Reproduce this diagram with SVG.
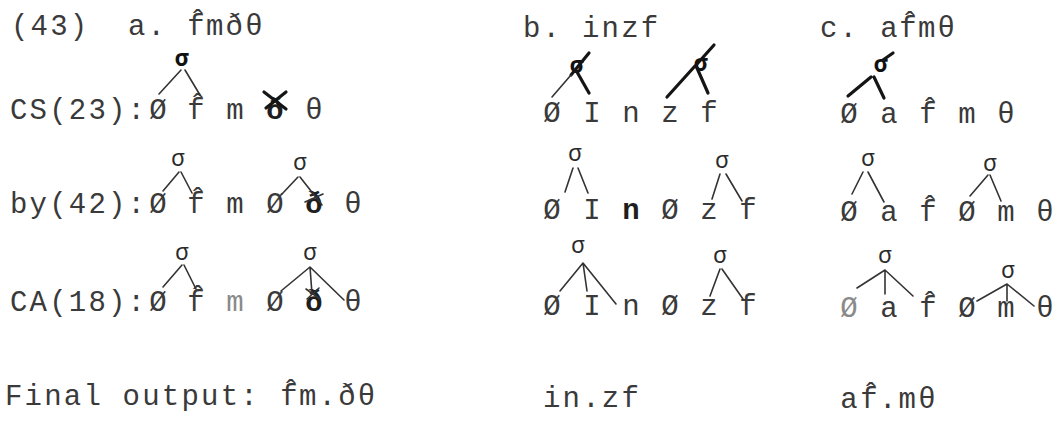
<svg xmlns="http://www.w3.org/2000/svg" width="1063" height="421" viewBox="0 0 1063 421">
<style>
.t{font-family:"Liberation Mono","DejaVu Sans Mono",monospace;font-size:29px;fill:#3a3a3a;text-anchor:middle}
.ls{text-anchor:start;letter-spacing:2.2px}
.b{font-weight:bold;fill:#1e1e1e}
.faint{fill:#8a8a8a}
.s{font-family:"Noto Sans","DejaVu Sans",sans-serif;font-size:23px;fill:#2a2a2a;text-anchor:middle}
.sb{font-weight:bold;fill:#111}
.l{stroke:#333;stroke-width:1.6;fill:none;stroke-linecap:round}
.lb{stroke:#151515;stroke-width:3.2}
</style>
<rect width="1063" height="421" fill="#ffffff"/>

<g id="col-a">
  <g id="a-header">
    <text class="t ls" x="11" y="35">(43)</text>
    <text class="t ls" x="128" y="35">a.</text>
    <text class="t" x="196" y="35">f̂</text>
    <text class="t ls" x="206" y="35">mðθ</text>
  </g>
  <g id="a-cs">
    <text class="t ls" x="10" y="119">CS(23):</text>
    <text class="t" x="158" y="119">Ø</text>
    <text class="t" x="196" y="119">f̂</text>
    <text class="t" x="235" y="119">m</text>
    <text class="t b" x="275" y="119">ð</text>
    <text class="t" x="314" y="119">θ</text>
  </g>
  <g id="a-by">
    <text class="t ls" x="10" y="213">by(42):</text>
    <text class="t" x="158" y="213">Ø</text>
    <text class="t" x="196" y="213">f̂</text>
    <text class="t" x="235" y="213">m</text>
    <text class="t" x="275" y="213">Ø</text>
    <text class="t b" x="314" y="213">ð</text>
    <text class="t" x="353" y="213">θ</text>
  </g>
  <g id="a-ca">
    <text class="t ls" x="10" y="311">CA(18):</text>
    <text class="t" x="158" y="311">Ø</text>
    <text class="t" x="196" y="311">f̂</text>
    <text class="t faint" x="235" y="311">m</text>
    <text class="t" x="275" y="311">Ø</text>
    <text class="t b" x="314" y="311">ð</text>
    <text class="t" x="353" y="311">θ</text>
  </g>
  <g id="a-final">
    <text class="t ls" x="5" y="405">Final output:</text>
    <text class="t" x="289" y="405">f̂</text>
    <text class="t ls" x="299" y="405">m.ðθ</text>
  </g>
  <g id="a-sigmas">
    <text class="s sb" x="182" y="66">σ</text>
    <text class="s" x="178" y="166">σ</text>
    <text class="s" x="300" y="170">σ</text>
    <text class="s" x="182" y="260">σ</text>
    <text class="s" x="310" y="260">σ</text>
  </g>
</g>

<g id="col-b">
  <g id="b-header">
    <text class="t ls" x="523" y="37">b.</text>
    <text class="t ls" x="582" y="37">inzf</text>
  </g>
  <g id="b-cs">
    <text class="t" x="552" y="122">Ø</text>
    <text class="t" x="592" y="122">I</text>
    <text class="t" x="631" y="122">n</text>
    <text class="t" x="670" y="122">z</text>
    <text class="t" x="709" y="122">f</text>
  </g>
  <g id="b-by">
    <text class="t" x="552" y="219">Ø</text>
    <text class="t" x="592" y="219">I</text>
    <text class="t b" x="631" y="219">n</text>
    <text class="t" x="670" y="219">Ø</text>
    <text class="t" x="709" y="219">z</text>
    <text class="t" x="748" y="219">f</text>
  </g>
  <g id="b-ca">
    <text class="t" x="552" y="315">Ø</text>
    <text class="t" x="592" y="315">I</text>
    <text class="t" x="631" y="315">n</text>
    <text class="t" x="670" y="315">Ø</text>
    <text class="t" x="709" y="315">z</text>
    <text class="t" x="748" y="315">f</text>
  </g>
  <g id="b-final">
    <text class="t ls" x="543" y="407">in.zf</text>
  </g>
  <g id="b-sigmas">
    <text class="s sb" x="577" y="73">σ</text>
    <text class="s sb" x="701" y="71">σ</text>
    <text class="s" x="575" y="161">σ</text>
    <text class="s" x="722" y="168">σ</text>
    <text class="s" x="578" y="253">σ</text>
    <text class="s" x="720" y="263">σ</text>
  </g>
</g>

<g id="col-c">
  <g id="c-header">
    <text class="t ls" x="820" y="37">c.</text>
    <text class="t" x="889" y="37">a</text>
    <text class="t" x="908" y="37">f̂</text>
    <text class="t ls" x="918" y="37">mθ</text>
  </g>
  <g id="c-cs">
    <text class="t" x="849" y="123">Ø</text>
    <text class="t" x="889" y="123">a</text>
    <text class="t" x="928" y="123">f̂</text>
    <text class="t" x="967" y="123">m</text>
    <text class="t" x="1006" y="123">θ</text>
  </g>
  <g id="c-by">
    <text class="t" x="849" y="221">Ø</text>
    <text class="t" x="889" y="221">a</text>
    <text class="t" x="928" y="221">f̂</text>
    <text class="t" x="967" y="221">Ø</text>
    <text class="t" x="1006" y="221">m</text>
    <text class="t" x="1045" y="221">θ</text>
  </g>
  <g id="c-ca">
    <text class="t faint" x="849" y="317">Ø</text>
    <text class="t" x="889" y="317">a</text>
    <text class="t" x="928" y="317">f̂</text>
    <text class="t" x="967" y="317">Ø</text>
    <text class="t" x="1006" y="317">m</text>
    <text class="t" x="1045" y="317">θ</text>
  </g>
  <g id="c-final">
    <text class="t" x="849" y="408">a</text>
    <text class="t" x="869" y="408">f̂</text>
    <text class="t ls" x="879" y="408">.mθ</text>
  </g>
  <g id="c-sigmas">
    <text class="s sb" x="881" y="72">σ</text>
    <text class="s" x="868" y="166">σ</text>
    <text class="s" x="990" y="171">σ</text>
    <text class="s" x="885" y="263">σ</text>
    <text class="s" x="1008" y="278">σ</text>
  </g>
</g>

<g id="connectors">
  <!-- column a -->
  <path class="l" d="M181 70 L159 94 M185 70 L200 95"/>
  <path class="l lb" d="M264 92 L286 109 M286 92 L266 108"/>
  <path class="l" d="M179 172 L163 191 M181 172 L192 193"/>
  <path class="l" d="M298 177 L282 194 M300 177 L322 205 M305 202 L323 194"/>
  <path class="l" d="M182 265 L163 287 M184 265 L196 289"/>
  <path class="l" d="M310 267 L281 291 M310 267 L312 294 M310 267 L344 300"/>
  <path class="l" d="M306 289 L320 299 M319 288 L307 299"/>
  <!-- column b -->
  <path class="l lb" d="M589 53 L571 75"/>
  <path class="l" d="M571 75 L552 97"/>
  <path class="l lb" d="M577 72 L589 93"/>
  <path class="l lb" d="M714 45 L697 64"/>
  <path class="l lb" d="M695 66 L667 97 M697 68 L708 93"/>
  <path class="l" d="M573 168 L565 192 M578 168 L588 193"/>
  <path class="l" d="M720 174 L712 199 M726 174 L742 201"/>
  <path class="l" d="M583 263 L560 291 M583 263 L587 291 M583 263 L616 304"/>
  <path class="l" d="M720 269 L710 296 M722 269 L743 299"/>
  <!-- column c -->
  <path class="l lb" d="M883 60 L893 53"/>
  <path class="l lb" d="M871 77 L848 96 M874 77 L884 98"/>
  <path class="l" d="M863 172 L852 194 M868 172 L884 202"/>
  <path class="l" d="M988 175 L970 196 M990 175 L1001 201"/>
  <path class="l" d="M885 270 L857 288 M885 270 L885 294 M885 270 L913 296"/>
  <path class="l" d="M1007 284 L977 301 M1007 284 L1007 301 M1007 284 L1034 306"/>
</g>
</svg>
